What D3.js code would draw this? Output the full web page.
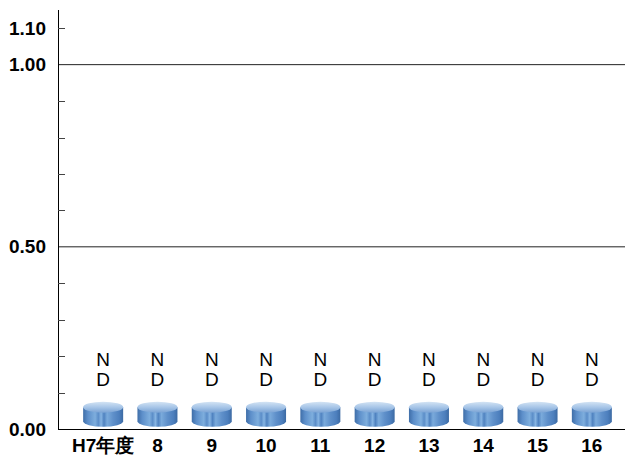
<!DOCTYPE html>
<html>
<head>
<meta charset="utf-8">
<script src="https://cdn.jsdelivr.net/npm/d3@7"></script>
<style>
  body { margin: 0; background: #fff; }
  svg text { font-family: "Liberation Sans", Arial, sans-serif; }
</style>
</head>
<body>
<svg id="chart" width="625" height="456"></svg>
<script>
// data
const years = ["H7年度", "8", "9", "10", "11", "12", "13", "14", "15", "16"];
const results = ["ND", "ND", "ND", "ND", "ND", "ND", "ND", "ND", "ND", "ND"];
const ndTop = [0.06, 0.06, 0.06, 0.06, 0.06, 0.06, 0.06, 0.06, 0.06, 0.06];
const ndBase = 0.021;
const yLabelTicks = [0, 0.5, 1.0, 1.1];
const minorTicks = [0.1, 0.2, 0.3, 0.4, 0.6, 0.7, 0.8, 0.9, 1.1];
const gridTicks = [0.5, 1.0];

const svg = d3.select("svg#chart");
const width = +svg.attr("width");
const margin = { top: 10, right: 0, bottom: 27, left: 58 };
const bottom = 456 - margin.bottom;

const x = d3.scaleBand(years, [76, 619]);
const y = d3.scaleLinear([0, 1.15], [bottom, margin.top]);

const defs = svg.append("defs");
const bodyGrad = defs.append("linearGradient").attr("id", "body");
[["0%", "#3f6ea8"], ["12%", "#5d8fca"], ["30%", "#7eaedd"], ["38%", "#5b8dc8"],
 ["45%", "#86b4e2"], ["52%", "#4f82c0"], ["60%", "#7aaadb"], ["75%", "#5f90ca"],
 ["90%", "#4d7fbd"], ["100%", "#3c6aa3"]].forEach(([o, c]) =>
  bodyGrad.append("stop").attr("offset", o).attr("stop-color", c));
const topGrad = defs.append("linearGradient").attr("id", "top")
  .attr("x1", 0).attr("y1", 0).attr("x2", 0).attr("y2", 1);
[["0%", "#d4e4f4"], ["50%", "#a8c6e8"], ["100%", "#7aa3d4"]].forEach(([o, c]) =>
  topGrad.append("stop").attr("offset", o).attr("stop-color", c));

// grid lines
svg.append("g")
  .selectAll("line")
  .data(gridTicks)
  .join("line")
  .attr("x1", margin.left).attr("x2", width)
  .attr("y1", d => y(d)).attr("y2", d => y(d))
  .attr("stroke", "#222").attr("stroke-width", 1);

// y axis with inward ticks
const yAxis = svg.append("g").attr("transform", `translate(${margin.left},0)`);
yAxis.append("line")
  .attr("x1", 0.5).attr("x2", 0.5)
  .attr("y1", margin.top).attr("y2", bottom)
  .attr("stroke", "#000");
yAxis.selectAll(".minor")
  .data(minorTicks)
  .join("line")
  .attr("class", "minor")
  .attr("x1", 0).attr("x2", 7)
  .attr("y1", d => Math.round(y(d)) + 0.5).attr("y2", d => Math.round(y(d)) + 0.5)
  .attr("stroke", "#444");
yAxis.selectAll("text")
  .data(yLabelTicks)
  .join("text")
  .attr("x", -12)
  .attr("y", d => y(d) + 6.5)
  .attr("text-anchor", "end")
  .attr("font-size", 19)
  .attr("font-weight", "bold")
  .text(d => d.toFixed(2));

// x axis
svg.append("line")
  .attr("x1", margin.left).attr("x2", width)
  .attr("y1", bottom + 0.5).attr("y2", bottom + 0.5)
  .attr("stroke", "#000");
svg.append("g")
  .selectAll("text")
  .data(years)
  .join("text")
  .attr("x", d => x(d) + x.bandwidth() / 2)
  .attr("y", 452)
  .attr("text-anchor", "middle")
  .attr("font-size", 19)
  .attr("font-weight", "bold")
  .text(d => d);

// ND cylinders
const rx = 20, ry = 5.5;
const cyl = svg.append("g")
  .selectAll("g")
  .data(years.map((yr, i) => ({ yr, top: ndTop[i], res: results[i] })))
  .join("g")
  .attr("transform", d => `translate(${x(d.yr) + x.bandwidth() / 2},0)`);

cyl.append("path")
  .attr("fill", "url(#body)")
  .attr("d", d => {
    const t = y(d.top), b = y(ndBase);
    return `M${-rx},${t} L${-rx},${b} A${rx},${ry} 0 0 0 ${rx},${b} L${rx},${t} Z`;
  });
cyl.append("ellipse")
  .attr("cx", 0).attr("cy", d => y(d.top))
  .attr("rx", rx).attr("ry", ry)
  .attr("fill", "url(#top)");

// ND labels
cyl.append("text")
  .attr("y", 366)
  .attr("text-anchor", "middle")
  .attr("font-size", 19)
  .text(d => d.res[0]);
cyl.append("text")
  .attr("y", 386)
  .attr("text-anchor", "middle")
  .attr("font-size", 19)
  .text(d => d.res[1]);
</script>
</body>
</html>
